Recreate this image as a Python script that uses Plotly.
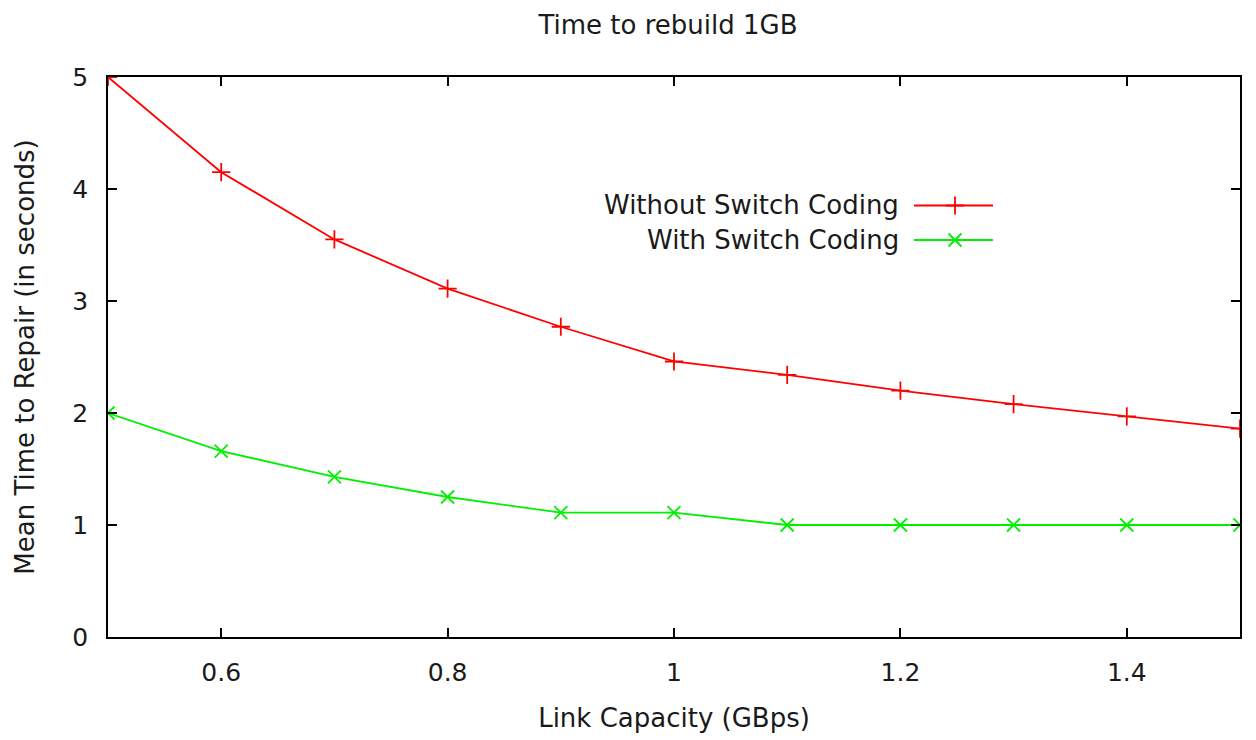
import plotly.graph_objects as go

link_capacity = [0.5, 0.6, 0.7, 0.8, 0.9, 1.0, 1.1, 1.2, 1.3, 1.4, 1.5]
without_switch = [5.0, 4.15, 3.55, 3.11, 2.77, 2.46, 2.34, 2.20, 2.08, 1.97, 1.86]
with_switch = [2.0, 1.66, 1.43, 1.25, 1.11, 1.11, 1.0, 1.0, 1.0, 1.0, 1.0]
series_names = ["Without Switch Coding", "With Switch Coding"]
series_colors = ["#ff0000", "#00f000"]
series_symbols = ["cross-thin-open", "x-thin-open"]

FONT = "DejaVu Sans"
FS = 26
TXT = "#1a1a1a"
OFF = 8  # browser body margin
W, H = 1256 - OFF, 740 - OFF
# target plot area in window pixels: x 108..1240, y 77..637
L, T = 108 - OFF, 77 - OFF
R = W - (1240 - OFF)
B = H - (637 - OFF)

fig = go.Figure()
for name, ys, col, sym in zip(series_names, [without_switch, with_switch], series_colors, series_symbols):
    fig.add_trace(go.Scatter(
        x=link_capacity, y=ys, mode="lines+markers", name=name,
        line=dict(color=col, width=1.8),
        marker=dict(symbol=sym, size=13, color=col, line=dict(color=col, width=1.8)),
        showlegend=False,
    ))

# manual gnuplot-style legend (text right, sample on the right), window-pixel helpers
pw, ph = 1240 - 108, 637 - 77
def px(x):
    return (x - 108) / pw
def py(y):
    return (637 - y) / ph

legend_rows = [205.5, 240.0]
for name, col, sym, yy in zip(series_names, series_colors, series_symbols, legend_rows):
    fig.add_annotation(xref="paper", yref="paper", x=px(901), y=py(yy), text=name,
                       showarrow=False, xanchor="right", yanchor="middle",
                       font=dict(family=FONT, size=FS, color=TXT))
    fig.add_shape(type="line", xref="paper", yref="paper", x0=px(914), x1=px(993),
                  y0=py(yy), y1=py(yy), line=dict(color=col, width=1.8))
    fig.add_trace(go.Scatter(
        x=[px(955)], y=[py(yy)], xaxis="x2", yaxis="y2", mode="markers",
        marker=dict(symbol=sym, size=13, color=col, line=dict(color=col, width=1.8)),
        showlegend=False, hoverinfo="skip",
    ))

axis_common = dict(showline=True, linecolor="#000000", linewidth=1.6, mirror="allticks",
                   ticks="inside", ticklen=9, tickwidth=1.6, tickcolor="#000000",
                   showgrid=False, zeroline=False,
                   tickfont=dict(family=FONT, size=25, color=TXT))

fig.update_layout(
    width=W, height=H,
    margin=dict(l=L, r=R, t=T, b=B),
    paper_bgcolor="white", plot_bgcolor="white",
    title=dict(text="Time to rebuild 1GB", x=(668 - OFF) / W, xanchor="center",
               y=1 - (25 - OFF) / H, yanchor="middle",
               font=dict(family=FONT, size=FS, color=TXT)),
    xaxis=dict(range=[0.5, 1.5], tick0=0, dtick=0.2, ticklabelstandoff=12,
               title=dict(text="Link Capacity (GBps)", standoff=23,
                          font=dict(family=FONT, size=FS, color=TXT)),
               **axis_common),
    yaxis=dict(range=[0, 5], tick0=0, dtick=1, ticklabelstandoff=13,
               title=dict(text="Mean Time to Repair (in seconds)", standoff=30,
                          font=dict(family=FONT, size=FS, color=TXT)),
               **axis_common),
    xaxis2=dict(overlaying="x", range=[0, 1], visible=False, fixedrange=True),
    yaxis2=dict(overlaying="y", range=[0, 1], visible=False, fixedrange=True),
)

fig.write_html("out.html")
